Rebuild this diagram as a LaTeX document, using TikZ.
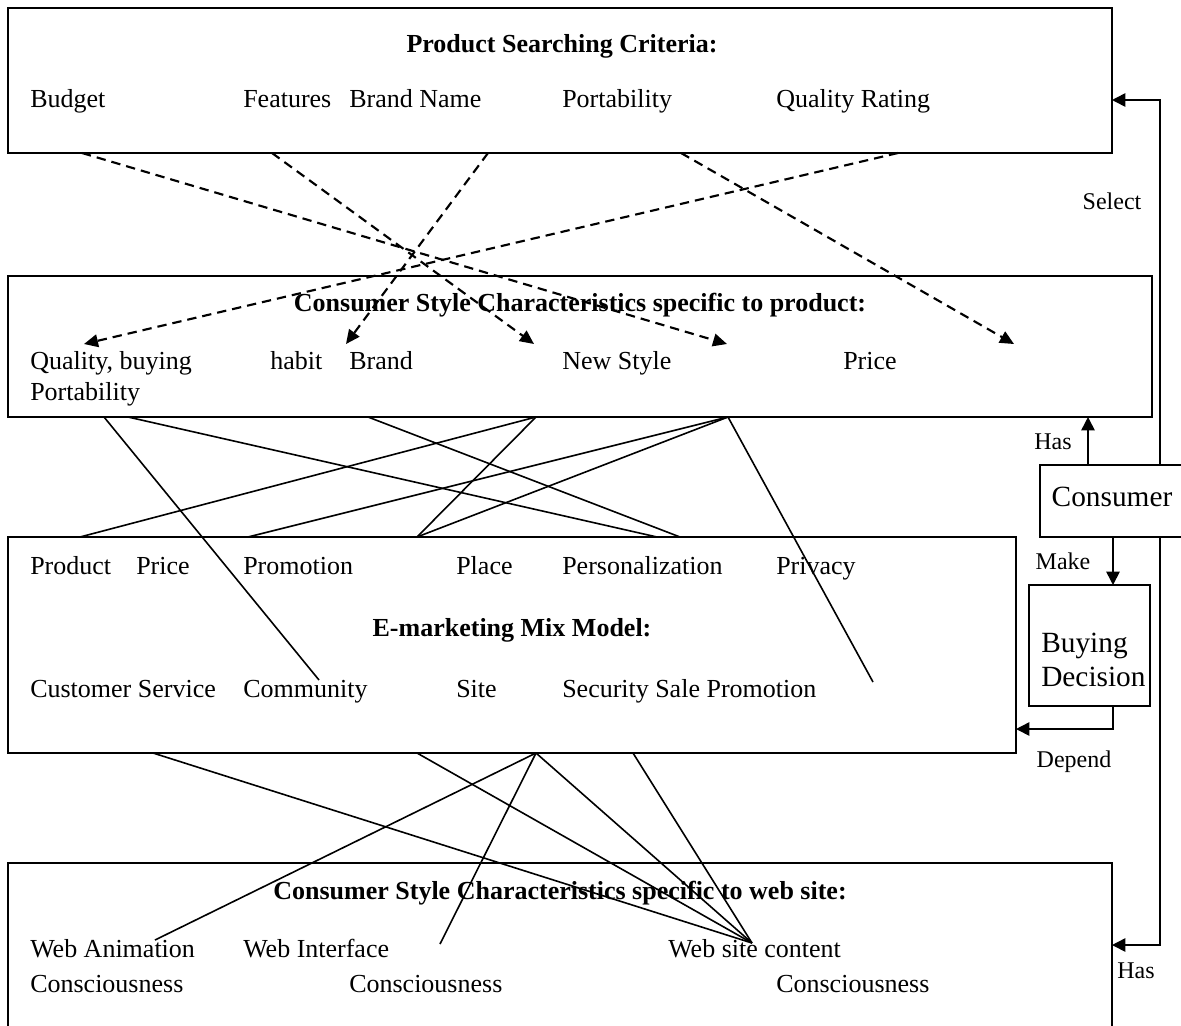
\documentclass[tikz,border=0pt]{standalone}
\usepackage{fontspec}
\setmainfont{Liberation Serif}
\usetikzlibrary{arrows.meta,fit}
\begin{document}
\begin{tikzpicture}[x=0.75pt,y=-0.75pt,
  box/.style={draw,line width=1.5pt,inner sep=0pt},
  txt/.style={anchor=west,inner sep=0pt,text height=0.68em,text depth=0pt,yshift=-3.5pt,font=\fontsize{19.5}{22}\selectfont},
  ttl/.style={inner sep=0pt,text height=0.68em,text depth=0pt,yshift=-3.5pt,font=\fontsize{19.5}{22}\selectfont\bfseries},
  lab/.style={inner sep=0pt,text height=0.68em,text depth=0pt,yshift=-3pt,font=\fontsize{18}{20}\selectfont},
  bigtxt/.style={inner sep=0pt,font=\fontsize{22}{25.5}\selectfont},
  ln/.style={line width=1.2pt},
  dsh/.style={line width=1.6pt,dash pattern=on 7pt off 4.5pt,-{Triangle[length=10.5pt,width=9.5pt]}},
  arr/.style={line width=1.2pt,-{Triangle[length=10pt,width=10pt]}}]
\useasboundingbox (0,0) rectangle (1181,1025);

% ---------- boxes ----------
\coordinate (b1a) at (8,8);      \coordinate (b1b) at (1112,153);
\coordinate (b2a) at (8,276);    \coordinate (b2b) at (1152,417);
\coordinate (b3a) at (8,537);    \coordinate (b3b) at (1016,753);
\coordinate (b4a) at (8,863);    \coordinate (b4b) at (1112,1045);
\coordinate (cna) at (1040,465); \coordinate (cnb) at (1195,537);
\coordinate (bda) at (1029,585); \coordinate (bdb) at (1150,706);
\node[box,fit=(b1a)(b1b)] (B1) {};
\node[box,fit=(b2a)(b2b)] (B2) {};
\node[box,fit=(b3a)(b3b)] (B3) {};
\node[box,fit=(b4a)(b4b)] (B4) {};
\node[box,fit=(cna)(cnb)] (CN) {};
\node[box,fit=(bda)(bdb)] (BD) {};

% ---------- box 1 texts ----------
\node[ttl] (t1) at (562,43) {Product Searching Criteria:};
\node[txt] (p1) at (30,98) {Budget};
\node[txt] (p2) at (243,98) {Features};
\node[txt] (p3) at (349,98) {Brand Name};
\node[txt] (p4) at (562,98) {Portability};
\node[txt] (p5) at (776,98) {Quality Rating};

% ---------- box 2 texts ----------
\node[ttl] (t2) at (580,302) {Consumer Style Characteristics specific to product:};
\node[txt] (c1) at (30,360) {Quality, buying};
\node[txt] (c2) at (270,360) {habit};
\node[txt] (c3) at (349,360) {Brand};
\node[txt] (c4) at (562,360) {New Style};
\node[txt] (c5) at (843,360) {Price};
\node[txt] (c6) at (30,391) {Portability};

% ---------- box 3 texts ----------
\node[txt] (m1) at (30,565) {Product};
\node[txt] (m2) at (136,565) {Price};
\node[txt] (m3) at (243,565) {Promotion};
\node[txt] (m4) at (456,565) {Place};
\node[txt] (m5) at (562,565) {Personalization};
\node[txt] (m6) at (776,565) {Privacy};
\node[ttl] (t3) at (512,627) {E-marketing Mix Model:};
\node[txt] (m7) at (30,688) {Customer Service};
\node[txt] (m8) at (243,688) {Community};
\node[txt] (m9) at (456,688) {Site};
\node[txt] (m10) at (562,688) {Security};
\node[txt] (m11) at (655,688) {Sale Promotion};

% ---------- box 4 texts ----------
\node[ttl] (t4) at (560,890) {Consumer Style Characteristics specific to web site:};
\node[txt] (w1) at (30,948) {Web Animation};
\node[txt] (w2) at (243,948) {Web Interface};
\node[txt] (w3) at (668,948) {Web site content};
\node[txt] (w4) at (30,983) {Consciousness};
\node[txt] (w5) at (349,983) {Consciousness};
\node[txt] (w6) at (776,983) {Consciousness};

% ---------- right side texts ----------
\node[bigtxt] (cntx) at (1112,497) {Consumer};
\node[bigtxt,align=left,anchor=west] (bdtx) at (1041,660) {Buying\\Decision};
\node[lab] (lsel) at (1112,201) {Select};
\node[lab] (lhas1) at (1053,441) {Has};
\node[lab] (lmake) at (1063,561) {Make};
\node[lab] (ldep) at (1074,759) {Depend};
\node[lab] (lhas2) at (1136,970) {Has};

% ---------- dashed arrows (box1 -> box2) ----------
\coordinate (s1) at (82,153);  \coordinate (e1) at (727,344);
\coordinate (s2) at (272,153); \coordinate (e2) at (534,344);
\coordinate (s3) at (488,153); \coordinate (e3) at (346,344);
\coordinate (s4) at (681,153); \coordinate (e4) at (1014,344);
\coordinate (s5) at (898,153); \coordinate (e5) at (84,344);
\draw[dsh] (s1) -- (e1);
\draw[dsh] (s2) -- (e2);
\draw[dsh] (s3) -- (e3);
\draw[dsh] (s4) -- (e4);
\draw[dsh] (s5) -- (e5);

% ---------- solid lines (box2 -> box3) ----------
\coordinate (u1) at (104,417); \coordinate (u2) at (128,417);
\coordinate (u3) at (368,417); \coordinate (u4) at (536,417);
\coordinate (u5) at (728,417);
\coordinate (v1) at (80,537);  \coordinate (v2) at (248,537);
\coordinate (v3) at (417,537); \coordinate (v4) at (657,537);
\coordinate (v5) at (680,537);
\coordinate (vc) at (319,680); \coordinate (vs) at (873,682);
\draw[ln] (u1) -- (vc);
\draw[ln] (u2) -- (v4);
\draw[ln] (u3) -- (v5);
\draw[ln] (u4) -- (v1);
\draw[ln] (u4) -- (v3);
\draw[ln] (u5) -- (v2);
\draw[ln] (u5) -- (v3);
\draw[ln] (u5) -- (vs);

% ---------- solid lines (box3 -> box4) ----------
\coordinate (g1) at (153,753); \coordinate (g2) at (417,753);
\coordinate (g3) at (536,753); \coordinate (g4) at (633,753);
\coordinate (h1) at (155,940); \coordinate (h2) at (440,944);
\coordinate (h3) at (752,943);
\draw[ln] (g1) -- (h3);
\draw[ln] (g2) -- (h3);
\draw[ln] (g3) -- (h3);
\draw[ln] (g4) -- (h3);
\draw[ln] (g3) -- (h1);
\draw[ln] (g3) -- (h2);

% ---------- right-side connectors ----------
\coordinate (k1) at (1088,465); \coordinate (k1e) at (1088,417);
\draw[arr] (k1) -- (k1e);
\coordinate (k2) at (1160,465); \coordinate (k2m) at (1160,100); \coordinate (k2e) at (1112,100);
\draw[arr] (k2) -- (k2m) -- (k2e);
\coordinate (k3) at (1160,537); \coordinate (k3m) at (1160,945); \coordinate (k3e) at (1112,945);
\draw[arr] (k3) -- (k3m) -- (k3e);
\coordinate (k4) at (1113,537); \coordinate (k4e) at (1113,585);
\draw[arr] (k4) -- (k4e);
\coordinate (k5) at (1113,706); \coordinate (k5m) at (1113,729); \coordinate (k5e) at (1016,729);
\draw[arr] (k5) -- (k5m) -- (k5e);
\end{tikzpicture}
\end{document}
